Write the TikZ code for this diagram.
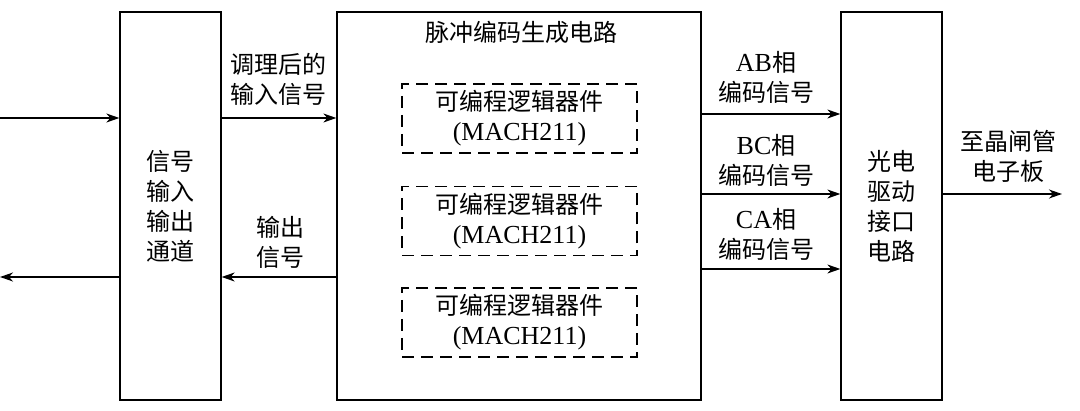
\documentclass[tikz,border=0pt]{standalone}
\usepackage{fontspec}
\setmainfont{Liberation Serif}
\newfontfamily\cjk{Noto Sans CJK SC}
\newcommand\ltn[1]{{\rmfamily\fontsize{26}{30}\selectfont #1}}
\usetikzlibrary{arrows.meta}

\begin{document}
\begin{tikzpicture}[x=1pt,y=-1pt,line width=1.3pt,
    font=\fontsize{24}{30}\selectfont\cjk,
    blk/.style={draw,minimum height=388pt,minimum width=#1,align=center,inner sep=0pt},
    plc/.style={draw,dashed,dash pattern=on 12pt off 7pt,minimum width=235pt,minimum height=69pt,align=center,inner sep=0pt},
    lbl/.style={align=center,inner sep=0pt},
    arr/.style={-{Stealth[length=13pt,width=9pt,inset=4pt]}}]
    \useasboundingbox (0,0) rectangle (1080,411);
    \node[blk=101pt] (io) at (170.5,206) {信号\\输入\\输出\\通道};
    \node[blk=364pt] (pcg) at (519,206) {};
    \node[blk=101pt] (drv) at (891.5,206) {光电\\驱动\\接口\\电路};
    \node[lbl] (title) at (521,32) {脉冲编码生成电路};
    \node[plc] (pld1) at (519.5,118.5) {可编程逻辑器件\\\ltn{(MACH211)}};
    \node[plc] (pld2) at (519.5,221) {可编程逻辑器件\\\ltn{(MACH211)}};
    \node[plc] (pld3) at (519.5,322.5) {可编程逻辑器件\\\ltn{(MACH211)}};
    \coordinate (in) at (0,118);
    \coordinate (out) at (0,277);
    \coordinate (ab) at (0,114);
    \coordinate (bc) at (0,194);
    \coordinate (ca) at (0,269);
    \coordinate (thy) at (1062,194);
    \draw[arr] (in) -- (in -| io.west);
    \draw[arr] (out -| io.west) -- (out);
    \draw[arr] (in -| io.east) -- (in -| pcg.west);
    \draw[arr] (out -| pcg.west) -- (out -| io.east);
    \draw[arr] (ab -| pcg.east) -- (ab -| drv.west);
    \draw[arr] (bc -| pcg.east) -- (bc -| drv.west);
    \draw[arr] (ca -| pcg.east) -- (ca -| drv.west);
    \draw[arr] (thy -| drv.east) -- (thy);
    \node[lbl] (cond) at (278,79) {调理后的\\输入信号};
    \node[lbl] (back) at (280,242) {输出\\信号};
    \node[lbl] (abl) at (766,77) {\ltn{AB}相\\编码信号};
    \node[lbl] (bcl) at (766,160) {\ltn{BC}相\\编码信号};
    \node[lbl] (cal) at (766,234) {\ltn{CA}相\\编码信号};
    \node[lbl] (thyl) at (1008,156) {至晶闸管\\电子板};
\end{tikzpicture}
\end{document}
